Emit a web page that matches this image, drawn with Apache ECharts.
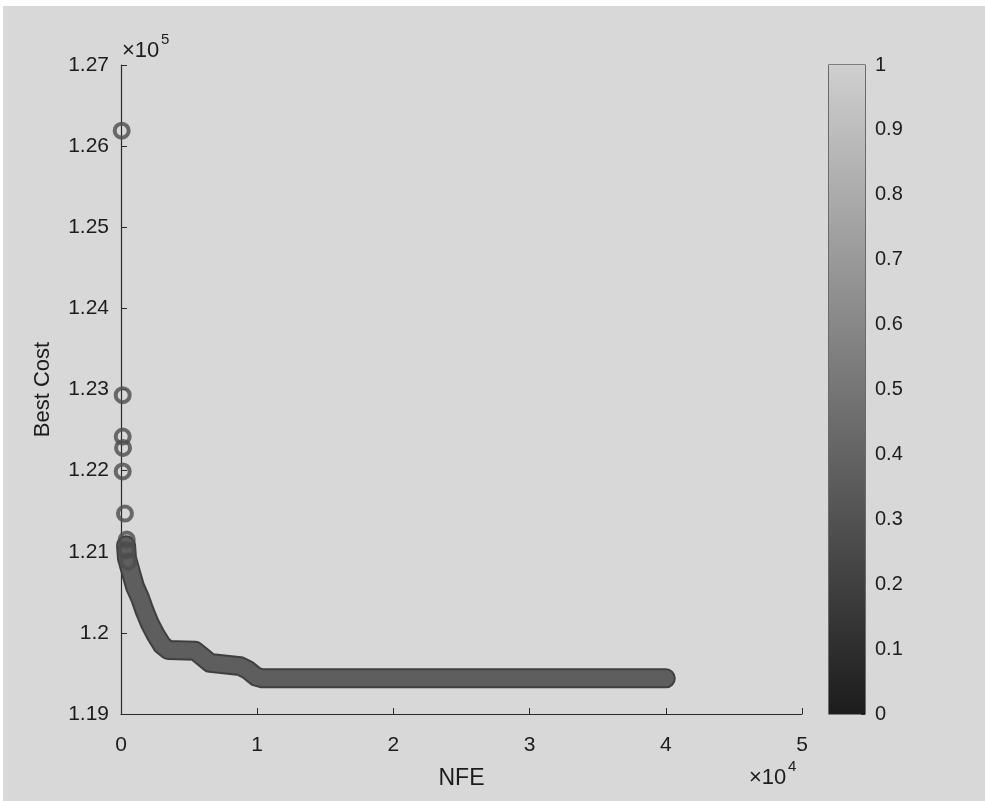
<!DOCTYPE html>
<html>
<head>
<meta charset="utf-8">
<script src="https://cdn.jsdelivr.net/npm/echarts@6/dist/echarts.min.js"></script>
<style>
  html, body { margin: 0; padding: 0; background: #ffffff; }
  #main { width: 985px; height: 801px; }
</style>
</head>
<body>
<div id="main"></div>
<script>
// sparse early points (NFE, Best Cost in units of 1e5)
var sparseNFE = [50, 125, 125, 150, 125, 290, 420, 420, 530];
var sparseCost = [1.2619, 1.2293, 1.2242, 1.2228, 1.2199, 1.2147, 1.2115, 1.2102, 1.2088];

// dense part of the run, read along the middle of the thick band
var curveNFE = [370, 440, 740, 1030, 1400, 1760, 2130, 2570, 3010, 3460, 5440, 6030, 6540, 8750, 9340, 9930, 10370, 40000];
var curveCost = [1.2108, 1.2092, 1.2074, 1.2057, 1.2043, 1.2026, 1.2011, 1.1997, 1.1985, 1.1979, 1.1978, 1.1970, 1.1963, 1.1959, 1.1954, 1.1946, 1.1944, 1.1944];

var xTicks = [0, 1, 2, 3, 4, 5];          // x 1e4
var yTicks = [1.19, 1.2, 1.21, 1.22, 1.23, 1.24, 1.25, 1.26, 1.27]; // x 1e5
var cbarTicks = [0, 0.1, 0.2, 0.3, 0.4, 0.5, 0.6, 0.7, 0.8, 0.9, 1];

var txt = '#1c1c1c';
var font = 'Liberation Sans';

var sparseData = sparseNFE.map(function (v, i) { return [v, sparseCost[i]]; });
var curveData = curveNFE.map(function (v, i) { return [v, curveCost[i]]; });

var myChart = echarts.init(document.getElementById('main'));

function label(text, left, top, size) {
    return {
        type: 'text', left: left, top: top, z: 100,
        style: { text: text, fontSize: size, fill: txt, fontFamily: font }
    };
}

var option = {
    animation: false,
    backgroundColor: '#d8d8d8',
    textStyle: { fontFamily: font },
    grid: [
        { left: 121, top: 65, width: 681, height: 649 },
        { left: 829, top: 65, width: 36, height: 649, show: true, borderColor: '#222', borderWidth: 1.2, backgroundColor: 'transparent' }
    ],
    xAxis: [
        {
            gridIndex: 0, type: 'value', min: 0, max: 50000, interval: 10000,
            name: 'NFE', nameLocation: 'middle', nameGap: 53,
            nameTextStyle: { fontSize: 23, color: txt, fontFamily: font },
            axisLine: { show: true, onZero: false, lineStyle: { color: '#2a2a2a', width: 1.2 } },
            axisTick: { show: true, inside: true, length: 6, lineStyle: { color: '#2a2a2a' } },
            axisLabel: { fontSize: 21, color: txt, margin: 21, formatter: function (v) { return String(v / 10000); } },
            splitLine: { show: false }
        },
        {
            gridIndex: 1, type: 'category', data: ['c'], show: false
        }
    ],
    yAxis: [
        {
            gridIndex: 0, type: 'value', min: 1.19, max: 1.27, interval: 0.01,
            name: 'Best Cost', nameLocation: 'middle', nameGap: 67, nameRotate: 90,
            nameTextStyle: { fontSize: 22, color: txt, fontFamily: font },
            axisLine: { show: true, onZero: false, lineStyle: { color: '#2a2a2a', width: 1.2 } },
            axisTick: { show: true, inside: true, length: 6, lineStyle: { color: '#2a2a2a' } },
            axisLabel: { fontSize: 21, color: txt, margin: 12, formatter: function (v) { return String(parseFloat(v.toFixed(2))); } },
            splitLine: { show: false }
        },
        {
            gridIndex: 1, type: 'value', min: 0, max: 1, interval: 0.1, position: 'right',
            axisLine: { show: false },
            axisTick: { show: true, inside: true, length: 4, lineStyle: { color: '#2a2a2a' } },
            axisLabel: { fontSize: 20, color: txt, margin: 10, formatter: function (v) { return String(parseFloat(v.toFixed(1))); } },
            splitLine: { show: false }
        }
    ],
    graphic: [
        { type: 'rect', left: 0, top: 0, shape: { width: 985, height: 6 }, style: { fill: '#ffffff' }, z: 100 },
        { type: 'rect', left: 0, top: 0, shape: { width: 3, height: 801 }, style: { fill: '#ffffff' }, z: 100 },
        label('\u00d710', 122, 40, 22),
        label('5', 161, 32, 15),
        label('\u00d710', 749, 767, 22),
        label('4', 788, 759, 15)
    ],
    series: [
        {
            // dark rim of the overlapping markers
            name: 'rim', type: 'line', xAxisIndex: 0, yAxisIndex: 0,
            data: curveData, showSymbol: false, smooth: false,
            lineStyle: { color: '#3f3f3f', width: 20, cap: 'round', join: 'round' },
            z: 2
        },
        {
            name: 'band', type: 'line', xAxisIndex: 0, yAxisIndex: 0,
            data: curveData, showSymbol: false, smooth: false,
            lineStyle: { color: '#5e5e5e', width: 16, cap: 'round', join: 'round' },
            z: 3
        },
        {
            name: 'markers', type: 'scatter', xAxisIndex: 0, yAxisIndex: 0,
            data: sparseData, symbol: 'circle', symbolSize: 14,
            itemStyle: { color: 'rgba(0,0,0,0)', borderColor: '#4c4c4c', borderWidth: 4 },
            z: 4
        },
        {
            name: 'colorbar', type: 'bar', xAxisIndex: 1, yAxisIndex: 1,
            data: [1], barWidth: '100%', silent: true,
            itemStyle: {
                color: {
                    type: 'linear', x: 0, y: 0, x2: 0, y2: 1,
                    colorStops: [
                        { offset: 0, color: '#cfcfcf' },
                        { offset: 1, color: '#1c1c1c' }
                    ]
                }
            }
        }
    ]
};
myChart.setOption(option);
</script>
</body>
</html>
